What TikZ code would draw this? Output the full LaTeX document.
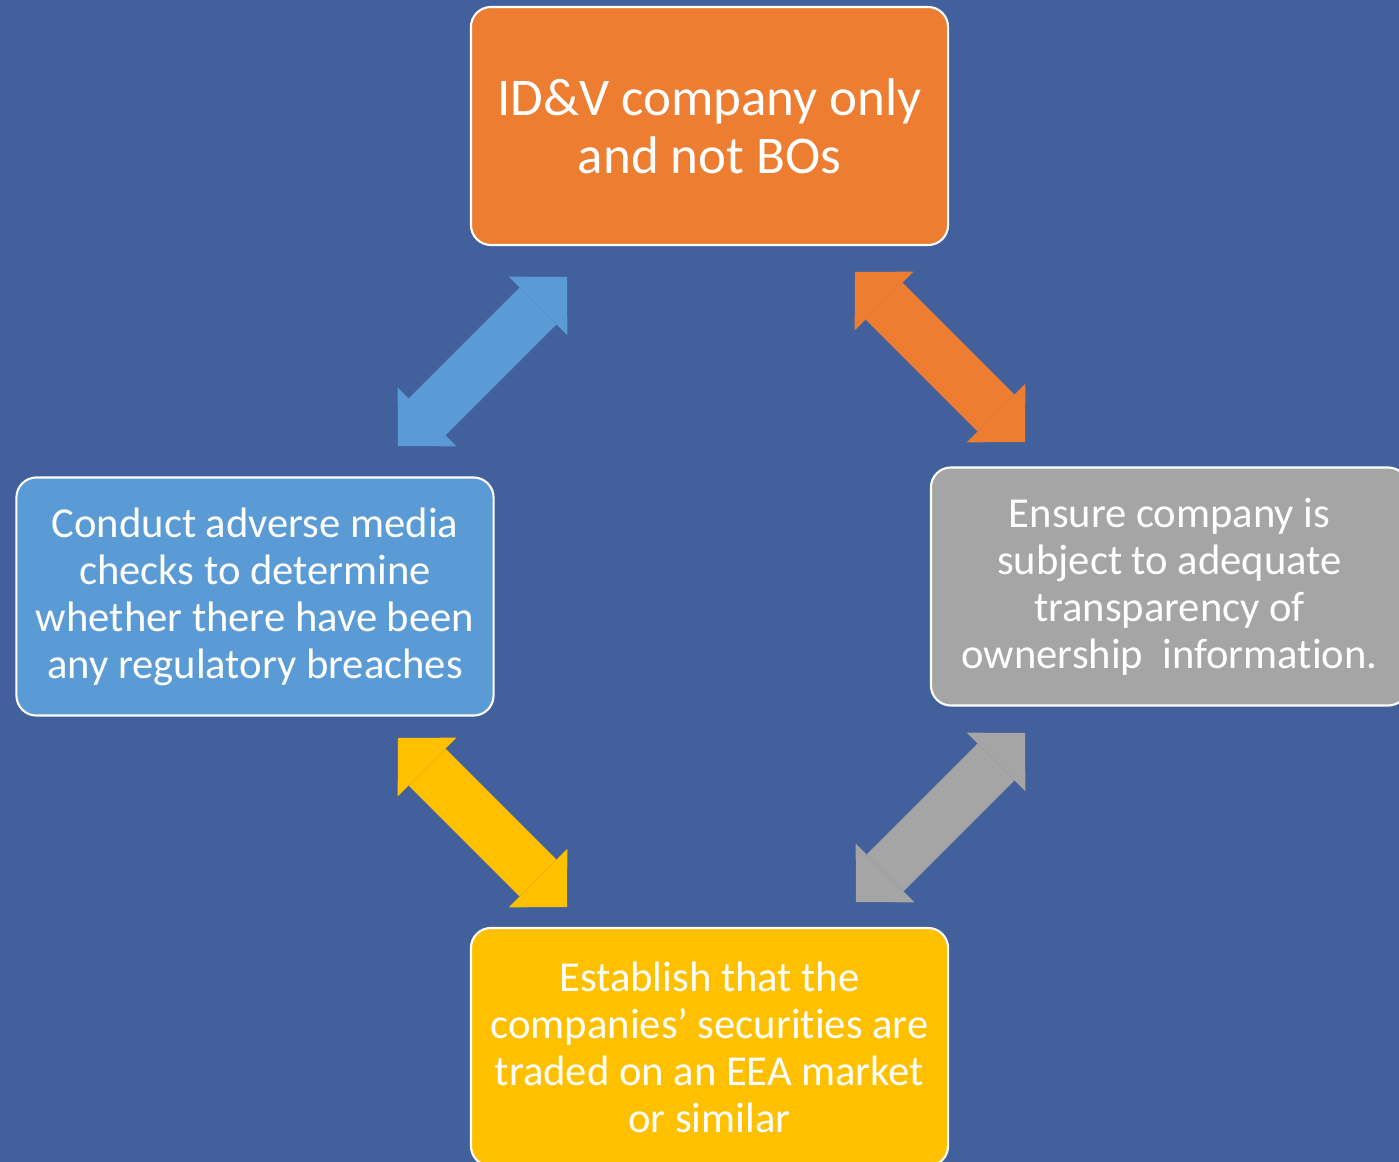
\documentclass[tikz,border=0pt]{standalone}
\usepackage{fontspec}
\setmainfont{Carlito}[Ligatures={TeX,NoCommon}]
\usetikzlibrary{arrows.meta}
\tikzset{box/.style = {draw=white, line width=1.5pt, rounded corners=0.5cm,
                       minimum width=11.925cm, minimum height=5.95cm, inner sep=0,
                       text=white, align=center, font=\fontsize{30.3}{33.4}\selectfont}}
\tikzset{biarrow/.style = {line width=1.3cm,
                           {Triangle[length=1.025cm, width=2.075cm, line width=0pt]}-{Triangle[length=1.025cm, width=2.075cm, line width=0pt]}}}
\definecolor{mbg}{RGB}{66, 96, 155}
\definecolor{morange}{RGB}{237, 125, 49}
\definecolor{mgrey}{RGB}{165, 165, 165}
\definecolor{myellow}{RGB}{255, 192, 0}
\definecolor{mblue}{RGB}{91, 155, 213}

\begin{document}
\begin{tikzpicture}[x=0.025cm, y=-0.025cm]
    \useasboundingbox (0, 0) rectangle (1399, 1162);
    \clip (0, 0) rectangle (1399, 1162);
    \fill [mbg] (0, 0) rectangle (1399, 1162);

    \node [box, fill=morange, font=\fontsize{37.7}{41.3}\selectfont] (idv) at (709.5, 126) {ID\&V company only\\and not BOs};
    \node [box, fill=mgrey] (ensure) at (1169.5, 586.5) {Ensure company is\\subject to adequate\\transparency of\\ownership\ \ information.};
    \node [box, fill=mblue] (conduct) at (255, 596.5) {Conduct adverse media\\checks to determine\\whether there have been\\any regulatory breaches};
    \node [box, fill=myellow] (establish) at (709.5, 1047) {Establish that the\\companies’ securities are\\traded on an EEA market\\or similar};

    \coordinate (b1) at (398, 446);
    \coordinate (b2) at (567, 277);
    \coordinate (o1) at (855, 272);
    \coordinate (o2) at (1025, 442);
    \coordinate (g1) at (1025, 733);
    \coordinate (g2) at (856, 902);
    \coordinate (y1) at (398, 738);
    \coordinate (y2) at (567, 907);

    \draw [biarrow, mblue] (b1) -- (b2);
    \draw [biarrow, morange] (o1) -- (o2);
    \draw [biarrow, mgrey] (g1) -- (g2);
    \draw [biarrow, myellow] (y1) -- (y2);
  \end{tikzpicture}
\end{document}
